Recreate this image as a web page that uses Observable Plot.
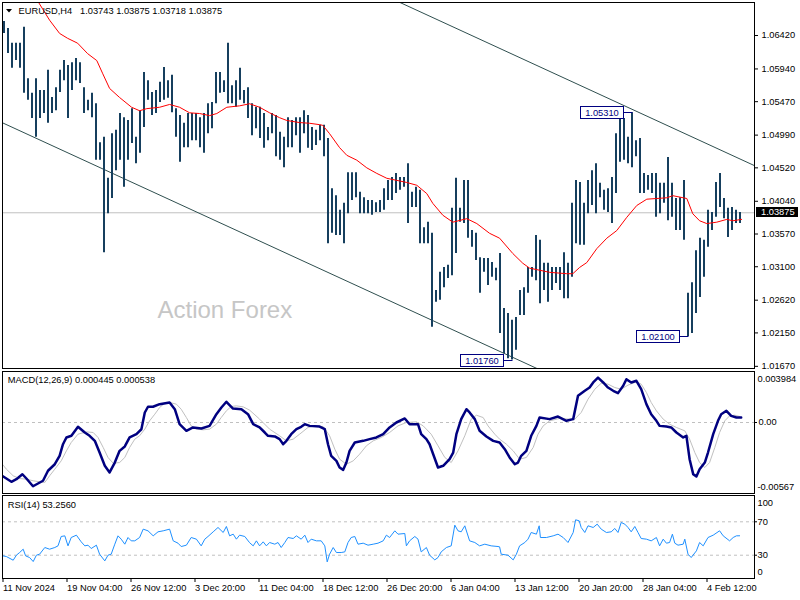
<!DOCTYPE html>
<html><head><meta charset="utf-8">
<script src="https://cdn.jsdelivr.net/npm/d3@7"></script>
<script src="https://cdn.jsdelivr.net/npm/@observablehq/plot@0.6"></script>
<style>
html,body{margin:0;padding:0;background:#fff;}
#chart{position:relative;width:800px;height:600px;overflow:hidden;background:#fff;}
#chart > svg{position:absolute;left:0;}
</style></head><body><div id="chart"></div>
<script>
// ---------- DATA ----------
const symbolTitle = "EURUSD,H4\u00a0\u00a0 1.03743 1.03875 1.03718 1.03875";
const macdTitle = "MACD(12,26,9) 0.000445 0.000538";
const rsiTitle = "RSI(14) 53.2560";
const watermark = "Action Forex";
const lastClose = 1.03875;

// one entry per two H4 bars (high / low)
const highs = [
1.0662,1.0652,1.0631,1.0631,1.0631,1.0654,1.0580,1.0559,1.0580,1.0563,
1.0563,1.0592,1.0553,1.0567,1.0592,1.0606,1.0599,1.0603,1.0609,1.0603,
1.0567,1.0549,1.0559,1.0544,1.0488,1.0496,1.0437,1.0501,1.0506,1.0530,
1.0524,1.0520,1.0537,1.0496,1.0534,1.0589,1.0577,1.0560,1.0563,1.0575,
1.0596,1.0577,1.0585,1.0537,1.0527,1.0516,1.0530,1.0530,1.0530,1.0524,
1.0530,1.0544,1.0546,1.0589,1.0589,1.0577,1.0631,1.0570,1.0577,1.0595,
1.0563,1.0567,
1.0544,1.0539,1.0539,1.0530,1.0510,1.0530,1.0527,1.0503,1.0496,1.0524,
1.0520,1.0524,1.0524,1.0534,1.0527,1.0510,1.0506,1.0513,1.0513,1.0494,
1.0422,1.0412,1.0391,1.0401,1.0445,1.0445,1.0445,1.0417,1.0409,1.0405,
1.0405,1.0402,1.0405,1.0422,1.0434,1.0438,1.0444,1.0438,1.0438,1.0458,
1.0417,1.0424,1.0420,1.0366,1.0374,1.0358,1.0276,1.0302,1.0309,1.0312,
1.0394,1.0437,1.0394,1.0434,1.0434,1.0362,1.0358,1.0323,1.0322,1.0322,
1.0316,1.0308,
1.0329,1.0250,1.0243,1.0233,1.0237,1.0276,1.0280,1.0309,1.0309,1.0355,
1.0348,1.0315,1.0315,1.0309,1.0309,1.0309,1.0330,1.0315,1.0401,1.0434,
1.0431,1.0401,1.0434,1.0448,1.0458,1.0430,1.0420,1.0422,1.0438,1.0501,
1.0530,1.0523,1.0496,1.0531,1.0491,1.0494,1.0444,1.0441,1.0444,1.0444,
1.0430,1.0430,1.0467,1.0430,1.0408,1.0409,1.0434,1.0272,1.0287,1.0333,
1.0351,1.0348,1.0391,1.0388,1.0431,1.0444,1.0408,1.0394,1.0395,1.0391,
1.0388];
const lows = [
1.0645,1.0616,1.0595,1.0606,1.0595,1.0559,1.0549,1.0523,1.0496,1.0523,
1.0530,1.0516,1.0530,1.0534,1.0560,1.0577,1.0523,1.0563,1.0577,1.0573,
1.0530,1.0534,1.0524,1.0463,1.0463,1.0330,1.0386,1.0408,1.0448,1.0463,
1.0424,1.0463,1.0487,1.0458,1.0473,1.0510,1.0549,1.0527,1.0530,1.0546,
1.0549,1.0552,1.0531,1.0496,1.0460,1.0481,1.0481,1.0491,1.0491,1.0481,
1.0473,1.0501,1.0508,1.0544,1.0559,1.0560,1.0544,1.0544,1.0539,1.0549,
1.0544,1.0523,
1.0498,1.0508,1.0494,1.0480,1.0491,1.0501,1.0468,1.0463,1.0452,1.0481,
1.0481,1.0498,1.0473,1.0501,1.0480,1.0477,1.0484,1.0491,1.0468,1.0343,
1.0358,1.0355,1.0355,1.0343,1.0386,1.0405,1.0409,1.0386,1.0386,1.0386,
1.0384,1.0388,1.0388,1.0391,1.0405,1.0405,1.0415,1.0420,1.0424,1.0372,
1.0395,1.0395,1.0343,1.0343,1.0343,1.0223,1.0259,1.0262,1.0280,1.0293,
1.0297,1.0329,1.0374,1.0372,1.0351,1.0338,1.0319,1.0272,1.0302,1.0283,
1.0295,1.0290,
1.0214,1.0185,1.0178,1.0176,1.0190,1.0240,1.0240,1.0272,1.0295,1.0290,
1.0257,1.0276,1.0259,1.0276,1.0286,1.0276,1.0264,1.0264,1.0295,1.0343,
1.0341,1.0341,1.0386,1.0398,1.0386,1.0409,1.0391,1.0388,1.0372,1.0415,
1.0460,1.0463,1.0458,1.0452,1.0468,1.0415,1.0415,1.0420,1.0415,1.0381,
1.0386,1.0401,1.0376,1.0381,1.0362,1.0362,1.0348,1.0210,1.0214,1.0243,
1.0266,1.0295,1.0338,1.0362,1.0381,1.0395,1.0379,1.0352,1.0362,1.0372,
1.0372];

// moving average (red)
const maBar = [8.7,11.4,13.9,15.9,18.4,20.9,23.2,24.7,26.4,28.9,31.9,33.9,35.7,38.9,41.4,43.9,46.4,48.9,51.4,53.2,55.7,58.9,61.4,63.9,66.4,68.9,70.7,73.9,76.4,78.9,79.7,81.4,83.9,85.7,88.2,90.7,93.2,95.7,98.2,100.7,103.2,105.7,107.2,109.7,112.2,115.7,118.2,121.4,123.9,127.2,129.7,131.4,136.4,140.7,142.2,143.9,145.7,148.2,150.7,153.2,155.7,158.2,160.7,163.2,165.7,167.2,170.7,172.2,173.9,175.7,178.2,180.7,182.2,184.4];
const maPrice = [1.0689,1.0664,1.0645,1.0638,1.0631,1.0616,1.0606,1.0587,1.0566,1.0553,1.0539,1.0534,1.0537,1.0539,1.0543,1.0539,1.0531,1.0530,1.0527,1.0530,1.0539,1.0541,1.0544,1.0539,1.0531,1.0524,1.0520,1.0517,1.0516,1.0514,1.0513,1.0501,1.0481,1.0470,1.0463,1.0452,1.0444,1.0437,1.0434,1.0431,1.0427,1.0415,1.0401,1.0384,1.0374,1.0379,1.0372,1.0358,1.0351,1.0329,1.0315,1.0308,1.0302,1.0300,1.0300,1.0309,1.0316,1.0336,1.0351,1.0362,1.0381,1.0398,1.0407,1.0408,1.0409,1.0412,1.0408,1.0386,1.0376,1.0372,1.0374,1.0378,1.0376,1.0378];

// channel trend lines (bar, price)
const channelUpperBar = [99, 187.6];
const channelUpperPrice = [1.06894, 1.04552];
const channelLowerBar = [-0.5, 133.2];
const channelLowerPrice = [1.0517, 1.0164];

// swing labels
const pinBar = [157, 127, 171];
const pinPrice = [1.0531, 1.0176, 1.0210];
const pinText = ["1.05310", "1.01760", "1.02100"];

// price axis ticks
const priceTicks = [1.0642, 1.0594, 1.0547, 1.0499, 1.0452, 1.0404, 1.0357, 1.0310, 1.0262, 1.0215, 1.0167];

// MACD
const macdBar = [-1.1,0.2,1.85,3.1,4.6,5.6,7.25,8.5,9.75,11,12.7,13.9,14.75,15.6,16.85,18.5,20.2,21.4,22.7,23.9,25.2,26.4,27.7,28.9,30.2,31.4,33.1,34.35,35.2,36,37.25,38.9,41.4,42.7,43.9,45.6,47.25,49.35,51.4,53.1,54.35,55.6,57.25,59.35,61,
62.3,63.9,65.2,66,67.7,68.9,69.8,70.6,71.8,73.1,74.3,75.2,76.4,78.9,80.2,81,81.8,83.1,83.9,84.8,85.6,86.4,87.7,89.8,91.4,93.1,94.8,96.4,98.1,100.2,101.4,103.5,104.3,105.6,106.4,107.3,108.5,109.8,111.4,112.3,113.1,114.3,115.6,116.4,117.7,118.9,120.6,122.3,123.9,
125.2,126.4,127.7,128.5,129.3,130.6,131.8,133.1,133.9,136.4,138.5,140.6,142.3,143.5,145.2,146.4,147.3,148.5,149.8,151,152.3,153.5,154.8,155.6,156.8,158.1,159.3,160.6,161.8,163.1,163.9,165.6,166.8,168.1,169.8,170.6,171.4,172.3,173.1,173.9,175.2,176,177.3,178.5,179.3,180.6,181.8,183.1,184.3];
const macdVal = [-0.00460,-0.00489,-0.00527,-0.00504,-0.00460,-0.00498,-0.00567,-0.00542,-0.00518,-0.00429,-0.00371,-0.00296,-0.00193,-0.00133,-0.00118,-0.00038,-0.00089,-0.00118,-0.00163,-0.00267,-0.00385,-0.00444,-0.00356,-0.00252,-0.00213,-0.00133,-0.00104,-0.00060,0.00089,0.00140,0.00140,0.00163,0.00178,0.00118,-0.00015,-0.00074,-0.00044,-0.00053,-0.00030,0.00074,0.00133,0.00184,0.00124,0.00118,0.00074,
-0.00015,-0.00044,-0.00089,-0.00118,-0.00124,-0.00148,-0.00193,-0.00163,-0.00104,-0.00059,-0.00038,-0.00015,-0.00030,-0.00036,-0.00059,-0.00193,-0.00296,-0.00341,-0.00400,-0.00421,-0.00356,-0.00252,-0.00178,-0.00163,-0.00148,-0.00133,-0.00104,-0.00044,0.00000,0.00036,-0.00015,-0.00015,-0.00104,-0.00148,-0.00193,-0.00282,-0.00400,-0.00385,-0.00326,-0.00267,-0.00104,0.00030,0.00118,0.00089,0.00030,-0.00074,-0.00124,-0.00163,-0.00178,
-0.00237,-0.00311,-0.00371,-0.00356,-0.00296,-0.00252,-0.00118,-0.00030,0.00044,0.00030,0.00053,0.00015,0.00030,0.00237,0.00282,0.00311,0.00356,0.003984,0.00356,0.00311,0.00282,0.00261,0.00326,0.00385,0.00356,0.00371,0.00296,0.00163,0.00074,0.00015,-0.00030,-0.00036,-0.00044,-0.00089,-0.00133,-0.00118,-0.00326,-0.00459,-0.00480,-0.00415,-0.00356,-0.00267,-0.00104,0.00015,0.00074,0.00104,0.00059,0.00044,0.000445];
const sigBar = [-1.1,0.6,2.3,3.9,5.6,7.3,8.9,10.2,11.4,12.7,14.3,15.6,16.8,18.5,20.6,22.3,23.5,24.8,26,27.3,28.9,30.2,31.4,32.7,33.9,35.2,36.4,37.7,38.9,40.2,41.4,43.1,44.3,45.6,46.8,48.1,49.8,51.4,53.1,54.3,55.6,56.8,58.1,59.8,61.4,
63.9,66.4,68.9,70.6,72.3,73.9,76,77.7,79.8,81.4,82.7,83.9,85.6,87.3,88.9,90.6,92.3,94.3,96.4,98.5,100.6,103.1,104.8,106.8,108.5,110.2,111.8,113.5,115.2,116.8,118.1,119.8,121,122.7,123.9,
125.6,127.3,128.9,130.6,132.3,133.5,134.8,136.4,138.9,141.4,142.7,144.3,146,147.7,149.3,151,152.7,154.3,156,158.1,159.3,160.6,161.8,163.1,164.8,166.4,168.1,170.2,171.4,172.7,173.9,175.2,176.4,177.7,178.9,180.2,181.4,182.7,183.9];
const sigVal = [-0.00341,-0.00415,-0.00474,-0.00498,-0.00504,-0.00518,-0.00527,-0.00533,-0.00474,-0.00415,-0.00341,-0.00252,-0.00178,-0.00104,-0.00083,-0.00089,-0.00133,-0.00222,-0.00311,-0.00362,-0.00356,-0.00311,-0.00222,-0.00148,-0.00118,-0.00059,0.00015,0.00074,0.00133,0.00172,0.00178,0.00163,0.00118,0.00044,-0.00030,-0.00059,-0.00065,-0.00059,-0.00015,0.00044,0.00104,0.00142,0.00148,0.00139,0.00110,
0.00030,-0.00059,-0.00118,-0.00163,-0.00148,-0.00104,-0.00044,-0.00030,-0.00036,-0.00118,-0.00237,-0.00326,-0.00371,-0.00341,-0.00282,-0.00207,-0.00163,-0.00133,-0.00089,-0.00030,0.00000,0.00006,-0.00030,-0.00104,-0.00207,-0.00311,-0.00356,-0.00252,-0.00118,0.00030,0.00065,0.00044,-0.00030,-0.00104,-0.00148,
-0.00193,-0.00252,-0.00326,-0.00311,-0.00222,-0.00104,-0.00030,0.00015,0.00036,0.00030,0.00030,0.00089,0.00207,0.00296,0.00349,0.00341,0.00311,0.00296,0.00332,0.00362,0.00341,0.00267,0.00178,0.00104,0.00030,-0.00015,-0.00044,-0.00074,-0.00148,-0.00267,-0.00356,-0.00400,-0.00356,-0.00222,-0.00089,0.00015,0.00059,0.00065,0.000538];
const macdLabels = [0.003984, -0.00567];

// RSI
const rsiBar = [-1.1,0.6,2.3,3.1,3.9,4.8,5.4,6.4,7.3,8.1,8.9,10.2,11.4,12.7,13.5,14.3,15.2,16,16.8,18.1,19.3,20.2,21,21.8,23.1,23.9,25.2,26,26.8,27.7,28.5,29.3,30.2,31,31.8,32.7,33.9,34.8,36,37.3,38.5,39.8,41.4,42.3,43.5,44.3,45.6,46.8,48.1,49.3,50.2,51,52.3,53.5,54.8,55.6,56.4,57.3,58.1,58.9,60.2,61.4,
62.3,63.1,63.9,64.8,65.6,66.4,67.7,68.5,69.3,70.2,71,72.3,73.1,74.3,75.2,76,76.8,78.1,79.3,80.2,80.8,81.4,82.3,83.1,84.3,85.2,86,86.8,87.7,88.5,89.8,91,92.3,93.5,94.8,95.6,96.4,97.7,98.5,100.2,100.6,101.4,102.7,103.5,104.3,105.6,106.4,107.7,108.5,109.3,110.6,111.8,112.7,113.5,114.3,115.2,116.4,117.7,118.9,120.2,121.8,123.5,123.9,
124.3,126,127.3,128.1,128.9,130.2,131,131.8,133.1,133.8,134.1,135.6,137.3,138.5,139.8,141,142.3,142.9,143.8,144.3,145.2,146,147.3,148.3,149.3,150.6,151.8,152.7,153.5,154.3,155.2,156,156.8,157.7,158.5,159.3,160.6,161.8,163.1,163.9,164.8,165.6,166.4,167.1,167.7,168.5,169.8,170.2,171,171.8,173.1,173.9,174.8,176,177.3,178.9,179.8,181.4,182.3,183.1,183.9];
const rsiVal = [30,28.4,24,30,33.2,37.2,29.2,27.2,22.4,30,31.2,39.2,37.2,39.2,41.2,52.4,53.2,41.2,51.2,54,46,41.2,42,38,42,31.2,23.2,30,31.2,43.2,53.2,49.2,43.2,51.2,47.2,47.2,51.2,61.2,59.2,53.2,58,59.2,61.2,47.2,44.4,40.4,42,51.2,49.2,41.2,49.2,52.4,58,63.2,57.2,64.4,53.2,55.2,49.2,54,52.4,45,
41.2,47.2,41.2,46,41.2,45.2,43.2,45.2,39.2,45.2,51.2,50,53.2,49.2,54,45.2,49.2,47.2,47.2,41.2,22,31.2,39.2,33.2,33.2,34,45.2,51.2,52.4,43.2,44.4,42,43.2,44.4,47.2,54,51.2,59.2,55.2,56,41.2,47.2,52.4,49.2,34,39.2,30,24.4,27.2,34,39.2,41.2,66,59.2,58,65.2,47.2,45.2,41.2,43.2,41.2,40.4,40,
31.2,30,24.4,31.2,41.2,45.2,49.2,57.2,55.2,65.2,51.2,51.2,53.2,55.2,51.2,45.2,57.2,72.4,71.2,63.2,57.2,65.2,63.2,67.2,61.2,57.2,58,62,57.2,69.2,67.2,63.2,58,64.4,57.2,50,49.2,47.2,51.2,41.2,49.2,44.4,45.2,55.2,44.4,42,43.2,49.2,31.2,27.2,35.2,45.2,41.2,51.2,54,59.2,53.2,47.2,51.2,53.2,53.256];
const rsiLevels = [70, 30];

// time axis
const timeLabels = ["11 Nov 2024","19 Nov 04:00","26 Nov 12:00","3 Dec 20:00","11 Dec 04:00","18 Dec 12:00","26 Dec 20:00","6 Jan 04:00","13 Jan 12:00","20 Jan 20:00","28 Jan 04:00","4 Feb 12:00"];

// ---------- BUILD ----------
const FONT = "'Liberation Sans', Arial, sans-serif";
const FS = 9.3;
const NAVY = "#000080";
const BARC = "#163f5e";
const xDomain = [-0.375, 187.625];

const bars = highs.map((h, i) => ({bar: i, high: h, low: lows[i]}));
const ma = maBar.map((b, i) => ({bar: b, v: maPrice[i]}));
const up = channelUpperBar.map((b, i) => ({bar: b, v: channelUpperPrice[i]}));
const lo = channelLowerBar.map((b, i) => ({bar: b, v: channelLowerPrice[i]}));
const pins = pinBar.map((b, i) => ({bar: b, price: pinPrice[i], label: pinText[i]}));
const macd = macdBar.map((b, i) => ({bar: b, v: macdVal[i]}));
const sig = sigBar.map((b, i) => ({bar: b, v: sigVal[i]}));
const rsi = rsiBar.map((b, i) => ({bar: b, v: rsiVal[i]}));
const tickPos = timeLabels.map((_, k) => k * 16 - 0.25);
const tickMap = new Map(tickPos.map((p, k) => [p, timeLabels[k]]));

function base(extra) {
  return Object.assign({
    width: 800, marginLeft: 2, marginRight: 46,
    x: {domain: xDomain, axis: null},
    style: {fontFamily: FONT, fontSize: FS + "px", background: "transparent", color: "#000", overflow: "visible"}
  }, extra);
}

function pinMark(items) {
  return (index, scales, values, dimensions) => {
    const g = d3.create("svg:g").attr("font-family", FONT).attr("font-size", FS);
    for (const a of items) {
      const bx = Math.round(scales.x(a.bar)) + 0.5;
      const by = Math.round(scales.y(a.price)) + 0.5;
      const w = 43, h = 12, gap = 9;
      const right = bx - gap;
      g.append("line").attr("x1", right).attr("x2", bx).attr("y1", by).attr("y2", by).attr("stroke", NAVY);
      g.append("rect").attr("x", right - w).attr("y", by - h / 2).attr("width", w).attr("height", h)
        .attr("fill", "#fff").attr("stroke", NAVY);
      g.append("text").attr("x", right - w / 2).attr("y", by).attr("dy", "0.36em")
        .attr("text-anchor", "middle").attr("fill", NAVY).text(a.label);
    }
    return g.node();
  };
}

function priceTag(price) {
  return (index, scales, values, dimensions) => {
    const g = d3.create("svg:g").attr("font-family", FONT).attr("font-size", FS);
    const y = Math.round(scales.y(price));
    const x0 = dimensions.width - dimensions.marginRight + 2;
    g.append("rect").attr("x", x0).attr("y", y - 5).attr("width", 42).attr("height", 10).attr("fill", "#000");
    g.append("text").attr("x", x0 + 5).attr("y", y).attr("dy", "0.35em").attr("text-anchor", "start")
      .attr("fill", "#fff").text(d3.format(".5f")(price));
    return g.node();
  };
}

function headTriangle() {
  return (index, scales, values, dimensions) => {
    const x = dimensions.marginLeft + 4;
    return d3.create("svg:path").attr("d", `M${x},9L${x + 6},9L${x + 3},12.5Z`).attr("fill", "#000").node();
  };
}

const main = Plot.plot(base({
  height: 370, marginTop: 2, marginBottom: 2,
  y: {domain: [1.01639, 1.06894], axis: null},
  marks: [
    Plot.ruleY([lastClose], {stroke: "#c0c0c0"}),
    Plot.line(up, {x: "bar", y: "v", stroke: "#2f4f4f", strokeWidth: 1, clip: true}),
    Plot.line(lo, {x: "bar", y: "v", stroke: "#2f4f4f", strokeWidth: 1, clip: true}),
    Plot.text([watermark], {text: d => d, frameAnchor: "top-left", dx: 155, dy: 308, textAnchor: "start",
      lineAnchor: "middle", fontSize: 24, fill: "#c6c6c6", fontFamily: FONT}),
    Plot.ruleX(bars, {x: "bar", y1: "low", y2: "high", stroke: BARC, strokeWidth: 2}),
    Plot.line(ma, {x: "bar", y: "v", stroke: "#ff0000", strokeWidth: 1, clip: true}),
    pinMark(pins),
    Plot.frame({stroke: "#000"}),
    Plot.axisY(priceTicks, {anchor: "right", label: null, tickSize: 3, tickPadding: 4, tickFormat: d3.format(".5f"),
      fontSize: FS, fontFamily: FONT, stroke: "#000"}),
    priceTag(lastClose),
    headTriangle(),
    Plot.text([symbolTitle], {text: d => d, frameAnchor: "top-left", dx: 16, dy: 8.7, textAnchor: "start",
      lineAnchor: "middle", fontSize: FS, fontFamily: FONT, fill: "#000"})
  ]
}));

const macdPlot = Plot.plot(base({
  height: 124, marginTop: 1, marginBottom: 1,
  y: {domain: [-0.006312, 0.004534], axis: null},
  marks: [
    Plot.ruleY([0], {stroke: "#c0c0c0", strokeDasharray: "3,3"}),
    Plot.line(sig, {x: "bar", y: "v", stroke: "#c0c0c0", strokeWidth: 1, clip: true}),
    Plot.line(macd, {x: "bar", y: "v", stroke: NAVY, strokeWidth: 2.5, clip: true}),
    Plot.frame({stroke: "#000"}),
    Plot.axisY([0], {anchor: "right", label: null, tickSize: 2, tickPadding: 2, tickFormat: () => "0.00", fontSize: FS, fontFamily: FONT}),
    Plot.text(macdLabels, {y: d => d, text: d => String(d), frameAnchor: "right", dx: 3, dy: 1,
      textAnchor: "start", fontSize: FS, fontFamily: FONT, fill: "#000"}),
    Plot.text([macdTitle], {text: d => d, frameAnchor: "top-left", dx: 5.3, dy: 8.3, textAnchor: "start",
      lineAnchor: "middle", fontSize: FS, fontFamily: FONT, fill: "#000"})
  ]
}));

const rsiPlot = Plot.plot(base({
  height: 106, marginTop: 1, marginBottom: 22,
  y: {domain: [2.1, 101.5], axis: null},
  marks: [
    Plot.ruleY(rsiLevels, {stroke: "#c0c0c0", strokeDasharray: "3,3"}),
    Plot.line(rsi, {x: "bar", y: "v", stroke: "#1e90ff", strokeWidth: 1, clip: true}),
    Plot.frame({stroke: "#000"}),
    Plot.axisY(rsiLevels, {anchor: "right", label: null, tickSize: 2, tickPadding: 1, fontSize: FS, fontFamily: FONT}),
    Plot.text([100], {y: d => d, text: d => String(d), frameAnchor: "right", dx: 3, dy: 5.8,
      textAnchor: "start", fontSize: FS, fontFamily: FONT, fill: "#000"}),
    Plot.text([0], {y: d => d, text: d => String(d), frameAnchor: "right", dx: 3, dy: -7.8,
      textAnchor: "start", fontSize: FS, fontFamily: FONT, fill: "#000"}),
    Plot.text([rsiTitle], {text: d => d, frameAnchor: "top-left", dx: 5.3, dy: 9.3, textAnchor: "start",
      lineAnchor: "middle", fontSize: FS, fontFamily: FONT, fill: "#000"}),
    Plot.axisX(tickPos, {anchor: "bottom", label: null, tickSize: 4, tickPadding: 2, textAnchor: "start",
      tickFormat: d => tickMap.get(d), fontSize: FS, fontFamily: FONT})
  ]
}));

const root = document.getElementById("chart");
main.style.top = "0px";
macdPlot.style.top = "370px";
rsiPlot.style.top = "494px";
root.append(main, macdPlot, rsiPlot);
</script>
</body></html>
